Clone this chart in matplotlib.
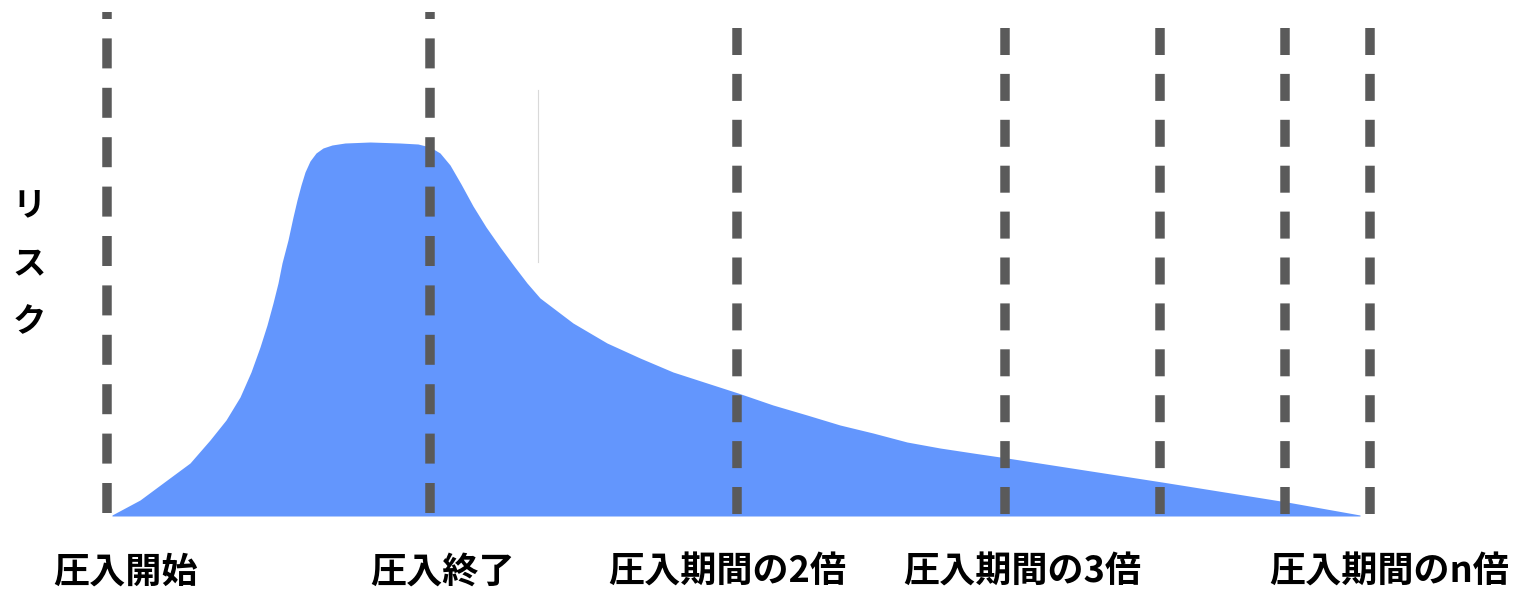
import matplotlib.pyplot as plt
import matplotlib as mpl

mpl.rcParams['lines.scale_dashes'] = False
plt.rcParams['font.family'] = ['Noto Sans CJK JP', 'DejaVu Sans']

# risk curve (x along the time axis, risk = height above baseline)
curve_x = [112, 140, 167, 190, 210, 226, 240, 251, 260, 267, 273, 278, 282, 288, 293, 297,
           301, 305, 310, 316, 323, 332, 345, 370, 400, 418, 430, 440, 450, 461, 473, 486,
           500, 514, 527, 540, 573, 607, 640, 673, 707, 738, 773, 807, 840, 873, 907, 940,
           973, 1007, 1162, 1287, 1360]
curve_risk = [1, 16, 36, 53, 76, 96, 119, 144, 169, 191, 213, 233, 253, 276, 299, 316,
              331, 344, 355, 363, 368, 371, 373, 374, 373, 372, 369, 363, 351, 332, 310, 289,
              269, 250, 233, 218, 193, 173, 158, 144, 133, 123, 111, 101, 91, 83, 74, 68,
              63, 58, 34, 14, 1]

# milestone lines: position, top and bottom (risk units), dash on/off in px
milestone_x = [107, 430, 737, 1005, 1160, 1285, 1370]
milestone_top = [504, 504, 488, 488, 488, 488, 488]
milestone_bottom = [3, 3, 2, 2, 2, 2, 2]
dash_on = [30, 30, 27, 27, 27, 27, 27]
dash_off = [19.4, 19.4, 18.9, 18.9, 18.9, 18.9, 18.9]

labels = ['圧入開始', '圧入終了', '圧入期間の2倍', '圧入期間の3倍', '圧入期間のn倍']
label_x = [126, 443, 727, 1022, 1389]
label_risk = -56

ylabel_chars = ['リ', 'ス', 'ク']
ylabel_risk = [310, 251, 193]

fig = plt.figure(figsize=(15.23, 5.92), dpi=100)
ax = fig.add_axes([0, 0, 1, 1])
ax.set_xlim(0, 1523)
ax.set_ylim(-76, 516)
ax.axis('off')

ax.fill_between(curve_x, curve_risk, 0, color='#6396fd', lw=0, zorder=1)

px = 0.72  # points per pixel at dpi 100
for i in range(len(milestone_x)):
    ax.plot([milestone_x[i], milestone_x[i]], [milestone_bottom[i], milestone_top[i]],
            color='#5a5a5a', lw=9.5 * px, solid_capstyle='butt', dash_capstyle='butt',
            dashes=(dash_on[i] * px, dash_off[i] * px), zorder=3)

# faint stray line in the original
ax.plot([538, 538], [254, 426], color='#d9d9d9', lw=0.8, zorder=2)

for i in range(len(labels)):
    ax.text(label_x[i], label_risk, labels[i], ha='center', va='center',
            fontsize=26, fontweight='bold', color='black')

for i in range(len(ylabel_chars)):
    ax.text(29, ylabel_risk[i], ylabel_chars[i], ha='center', va='center',
            fontsize=24, fontweight='bold', color='black')

plt.savefig('out.png', dpi=100)
plt.close()
